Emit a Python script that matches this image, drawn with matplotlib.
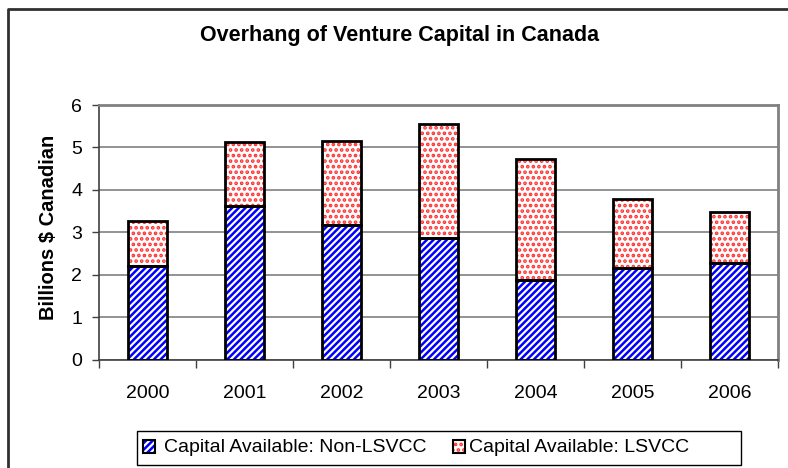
import numpy as np
import matplotlib
matplotlib.use("Agg")
import matplotlib.pyplot as plt
from matplotlib.patches import Rectangle
from matplotlib.lines import Line2D

plt.rcParams["font.family"] = ["Liberation Sans", "DejaVu Sans"]
plt.rcParams["hatch.linewidth"] = 1.8

years = ["2000", "2001", "2002", "2003", "2004", "2005", "2006"]
non_lsvcc = [2.20, 3.62, 3.17, 2.87, 1.87, 2.16, 2.28]
lsvcc = [1.07, 1.50, 1.99, 2.68, 2.86, 1.62, 1.19]
labels = ["Capital Available: Non-LSVCC", "Capital Available: LSVCC"]

BLUE, RED = "#0000ff", "#ff3030"
HB, HR = "/////", "..."

W, H = 788, 468
fig = plt.figure(figsize=(W / 100, H / 100), dpi=100)
ax = fig.add_axes([99 / W, 1 - 359.5 / H, 679 / W, 254.5 / H])

x = np.arange(len(years))
bw = 0.4
# hatched fills first, black outlines on top
ax.bar(x, non_lsvcc, bw, color="white", edgecolor=BLUE, hatch=HB, lw=0, zorder=2)
ax.bar(x, lsvcc, bw, bottom=non_lsvcc, color="white", edgecolor=RED, hatch=HR, lw=0, zorder=2)
ax.bar(x, non_lsvcc, bw, fill=False, edgecolor="black", lw=2, zorder=3)
ax.bar(x, lsvcc, bw, bottom=non_lsvcc, fill=False, edgecolor="black", lw=2, zorder=3)

ax.set_xlim(-0.5, len(years) - 0.5)
ax.set_ylim(0, 6)
ax.set_yticks(range(7))
ax.yaxis.grid(True, color="#808080", lw=1.2, zorder=0)
ax.set_axisbelow(True)

ax.set_xticks(x)
ax.set_xticklabels(years, fontsize=14)
ax.set_xticks(np.arange(-0.5, len(years)), minor=True)
ax.tick_params(axis="x", which="major", length=0, pad=18)
ax.tick_params(axis="x", which="minor", length=6, width=1, color="#404040", direction="out")
ax.tick_params(axis="y", length=5, width=1, color="#404040", labelsize=14, pad=7)

for s in ("top", "right"):
    ax.spines[s].set_color("#808080")
    ax.spines[s].set_linewidth(2)
for s in ("left", "bottom"):
    ax.spines[s].set_color("#404040")
    ax.spines[s].set_linewidth(1.2)

ax.set_ylabel("Billions $ Canadian", fontsize=14.5, fontweight="bold")
ax.yaxis.set_label_coords(-0.061, 0.52)

fig.text(400 / W, 1 - 35 / H, "Overhang of Venture Capital in Canada",
         fontsize=15.5, fontweight="bold", ha="center", va="center")

# outer chart frame (top and left edges visible)
fig.add_artist(Line2D([8 / W, 8 / W, 1.0], [0.0, 1 - 9 / H, 1 - 9 / H],
                      transform=fig.transFigure, color="#303030", lw=2))

# legend box, laid out like the original
def fx(px): return px / W
def fy(py): return 1 - py / H
fig.add_artist(Rectangle((fx(137), fy(465)), fx(741) - fx(137), fy(431) - fy(465),
                         transform=fig.transFigure, fill=False, edgecolor="black", lw=1))
for hx, tx, col, hat, lab in [(143, 164, BLUE, HB, labels[0]), (453, 469, RED, HR, labels[1])]:
    fig.add_artist(Rectangle((fx(hx), fy(453)), 12 / W, 13 / H, transform=fig.transFigure,
                             facecolor="white", edgecolor=col, hatch=hat, lw=0))
    fig.add_artist(Rectangle((fx(hx), fy(453)), 12 / W, 13 / H, transform=fig.transFigure,
                             fill=False, edgecolor="black", lw=1.5))
    fig.text(fx(tx), fy(448), lab, fontsize=14, ha="left", va="center")

fig.savefig("out.png", dpi=100)
